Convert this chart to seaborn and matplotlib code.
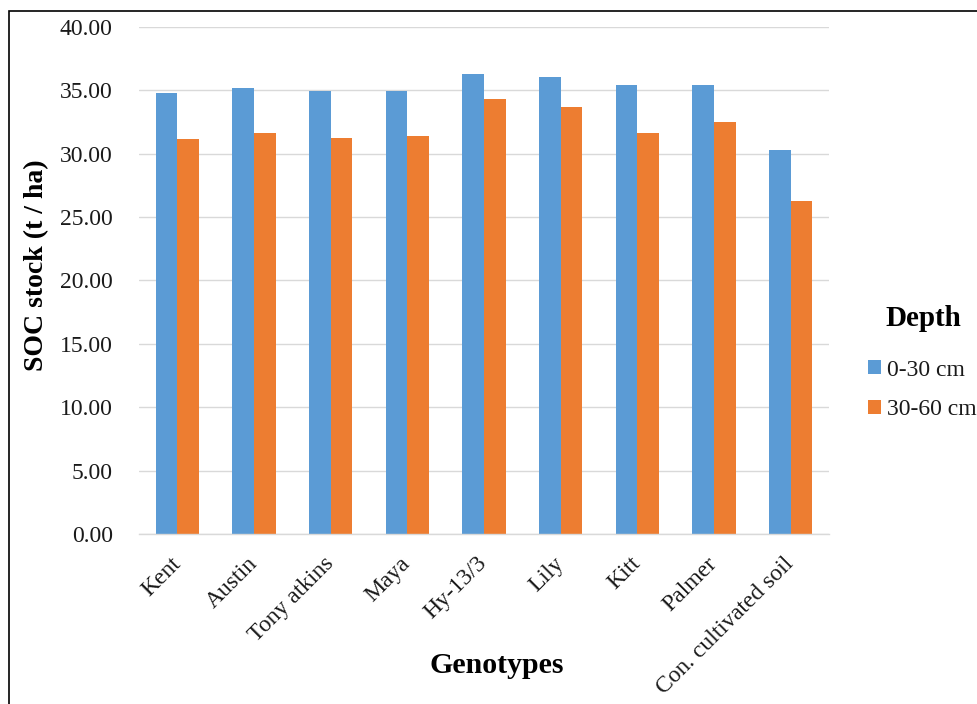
import matplotlib
matplotlib.use("Agg")
import matplotlib.pyplot as plt
from matplotlib.patches import Rectangle
from matplotlib.ticker import FormatStrFormatter, MultipleLocator
import pandas as pd
import seaborn as sns

# SOC stock per genotype at two soil depths
genotypes = ["Kent", "Austin", "Tony atkins", "Maya", "Hy-13/3", "Lily",
             "Kitt", "Palmer", "Con. cultivated soil"]
depths = ["0-30 cm", "30-60 cm"]
soc_0_30 = [34.75, 35.13, 34.92, 34.92, 36.24, 36.00, 35.37, 35.37, 30.27]
soc_30_60 = [31.11, 31.58, 31.24, 31.35, 34.27, 33.66, 31.58, 32.45, 26.22]
colors = ["#5B9BD5", "#ED7D31"]

df = pd.DataFrame({
    "Genotypes": genotypes * 2,
    "Depth": [depths[0]] * len(genotypes) + [depths[1]] * len(genotypes),
    "SOC": soc_0_30 + soc_30_60,
})

sns.set_style("white")
plt.rcParams["font.family"] = ["Liberation Serif", "DejaVu Serif"]

fig = plt.figure(figsize=(9.77, 7.04), dpi=100)
ax = fig.add_axes([0.1423, 0.2415, 0.7062, 0.7206])

sns.barplot(data=df, x="Genotypes", y="SOC", hue="Depth", order=genotypes,
            hue_order=depths, palette=colors, saturation=1, width=0.565,
            gap=0, edgecolor="none", linewidth=0, ax=ax)

ax.set_ylim(0, 40)
ax.set_xlim(-0.5, len(genotypes) - 0.5)
ax.yaxis.set_major_locator(MultipleLocator(5))
ax.yaxis.set_major_formatter(FormatStrFormatter("%.2f"))
ax.grid(axis="y", color="#D9D9D9", linewidth=1.0)
ax.set_axisbelow(True)
for side in ["top", "left", "right"]:
    ax.spines[side].set_visible(False)
ax.spines["bottom"].set_color("#D9D9D9")
ax.spines["bottom"].set_linewidth(1.0)

ax.tick_params(axis="y", length=0, pad=19, labelsize=17, labelcolor="#1a1a1a")
ax.tick_params(axis="x", length=0, pad=19, labelsize=17, labelcolor="#1a1a1a")
for lab in ax.get_xticklabels():
    lab.set_rotation(45)
    lab.set_ha("right")
    lab.set_va("center")
    lab.set_rotation_mode("anchor")

ax.set_ylabel("SOC stock (t / ha)", fontsize=20, fontweight="bold", color="black")
ax.yaxis.set_label_coords(-0.13, 0.53)
ax.set_xlabel("Genotypes", fontsize=21.5, fontweight="bold", color="black")
ax.xaxis.set_label_coords(0.518, -0.233)

# legend entries, with the "Depth" heading set above them
leg = ax.legend(loc="center left",
                bbox_to_anchor=(868 / 977, 1 - 390 / 704),
                bbox_transform=fig.transFigure,
                frameon=False, fontsize=17,
                handlelength=0.55, handleheight=0.55, handletextpad=0.25,
                labelspacing=0.8, borderpad=0, borderaxespad=0)
for t in leg.get_texts():
    t.set_color("#1a1a1a")
fig.text(923 / 977, 1 - 318 / 704, "Depth", fontsize=21, fontweight="bold",
         ha="center", va="center", color="black")

# outer chart frame
fig.patches.append(Rectangle((9 / 977, -0.1), 1.2, 1 - 11 / 704 + 0.1,
                             transform=fig.transFigure, fill=False,
                             edgecolor="black", linewidth=1.2))

fig.savefig("out.png", dpi=100)
